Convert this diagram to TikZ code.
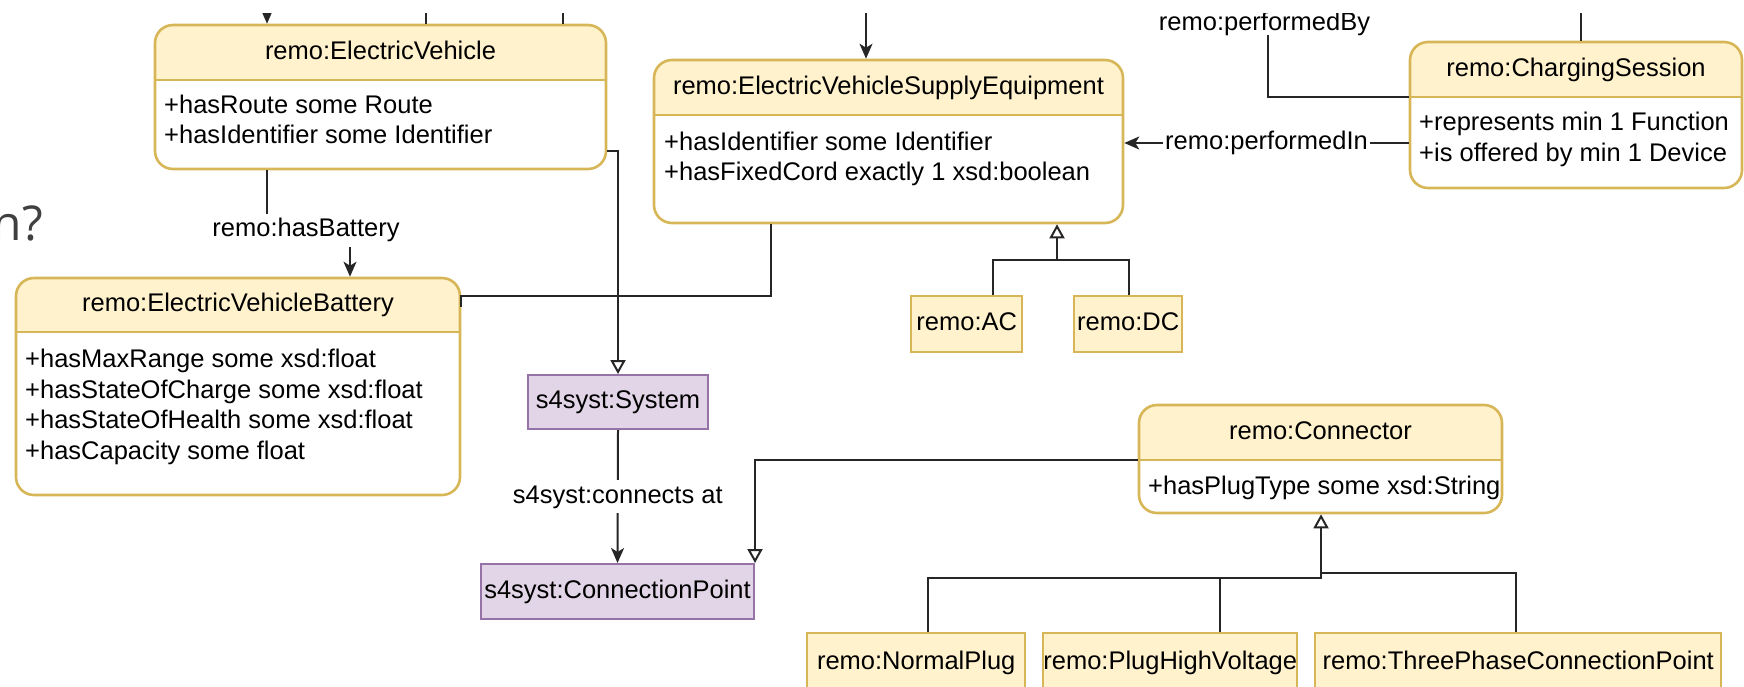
\documentclass[tikz,border=0pt]{standalone}
\usepackage{fontspec}
\setmainfont{Liberation Sans}
\newfontfamily\opensans{Open Sans}
\usetikzlibrary{fit,arrows.meta}
\definecolor{hdrfill}{HTML}{FFF2CC}
\definecolor{hdrdraw}{HTML}{D6B656}
\definecolor{sysfill}{HTML}{E1D5E7}
\definecolor{sysdraw}{HTML}{9673A6}
\definecolor{slidegray}{HTML}{404040}
\tikzset{
  txt/.style={font=\fontsize{25.5}{30.7}\selectfont, text height=18pt, text depth=5pt, inner sep=0pt},
  clsbox/.style={draw=hdrdraw, line width=2.6pt, rounded corners=18pt, inner sep=0pt},
  plainbox/.style={draw=hdrdraw, fill=hdrfill, line width=2.4pt, inner sep=0pt},
  sysbox/.style={draw=sysdraw, fill=sysfill, line width=2pt, inner sep=0pt},
  conn/.style={line width=2pt, draw=black!85},
  assoc/.style={conn, -{Stealth[length=15pt,width=13pt,inset=4pt]}},
  gen/.style={conn, -{Triangle[open,length=14pt,width=15pt]}},
  lbl/.style={txt, fill=white, inner xsep=2pt, inner ysep=5pt},
}
\newcommand{\umlclass}[7]{%
  \begin{scope}
    \clip (#2-3,#3-3) rectangle (#4+3,#6);
    \fill[hdrfill, rounded corners=18pt] (#2,#3) rectangle (#4,#5);
  \end{scope}
  \node[clsbox, fit={(#2,#3) (#4,#5)}] (#1) {};
  \draw[hdrdraw, line width=2.6pt] (#2,#6) -- (#4,#6);
  \node[txt] (#1-title) at ({(#2+#4)/2},{(#3+#6)/2}) {#7};
}
\begin{document}
\begin{tikzpicture}[x=1pt,y=-1pt]
\useasboundingbox (0,0) rectangle (1744,686);
\begin{scope}
\clip (0,13) rectangle (1744,686);

% slide fragment
\node[font=\opensans\fontsize{48}{52}\selectfont, text=slidegray, anchor=base east, inner sep=0pt] (frag) at (43,240) {n?};

% classes
\umlclass{ev}{155}{25}{606}{169}{80}{remo:ElectricVehicle}
\node[txt, anchor=west] (ev-a1) at (164,107) {+hasRoute some Route};
\node[txt, anchor=west] (ev-a2) at (164,137) {+hasIdentifier some Identifier};

\umlclass{ese}{654}{60}{1123}{223}{115}{remo:ElectricVehicleSupplyEquipment}
\node[txt, anchor=west] (ese-a1) at (664,144) {+hasIdentifier some Identifier};
\node[txt, anchor=west] (ese-a2) at (664,174) {+hasFixedCord exactly 1 xsd:boolean};

\umlclass{cs}{1410}{42}{1742}{188}{97}{remo:ChargingSession}
\node[txt, anchor=west] (cs-a1) at (1419,124) {+represents min 1 Function};
\node[txt, anchor=west] (cs-a2) at (1419,155) {+is offered by min 1 Device};

\umlclass{bat}{16}{278}{460}{495}{332}{remo:ElectricVehicleBattery}
\node[txt, anchor=west] (bat-a1) at (25,361) {+hasMaxRange some xsd:float};
\node[txt, anchor=west] (bat-a2) at (25,392) {+hasStateOfCharge some xsd:float};
\node[txt, anchor=west] (bat-a3) at (25,422) {+hasStateOfHealth some xsd:float};
\node[txt, anchor=west] (bat-a4) at (25,453) {+hasCapacity some float};

\umlclass{con}{1139}{405}{1502}{513}{460}{remo:Connector}
\node[txt, anchor=west] (con-a1) at (1148,488) {+hasPlugType some xsd:String};

% plain boxes
\node[sysbox, txt, minimum width=180pt, minimum height=54pt, anchor=north west] (sys) at (527,374) {s4syst:System};
\node[sysbox, txt, minimum width=273pt, minimum height=55pt, anchor=north west] (cp) at (480,563) {s4syst:ConnectionPoint};
\node[plainbox, txt, minimum width=111pt, minimum height=56pt, anchor=north west] (ac) at (910,295) {remo:AC};
\node[plainbox, txt, minimum width=108pt, minimum height=56pt, anchor=north west] (dc) at (1073,295) {remo:DC};
\node[plainbox, txt, minimum width=218pt, minimum height=60pt, anchor=north west] (np) at (806,632) {remo:NormalPlug};
\node[plainbox, txt, minimum width=254pt, minimum height=60pt, anchor=north west] (phv) at (1042,632) {remo:PlugHighVoltage};
\node[plainbox, txt, minimum width=406pt, minimum height=60pt, anchor=north west] (tp) at (1314,632) {remo:ThreePhaseConnectionPoint};

% free ends at the top
\coordinate (t1) at (267,0);
\coordinate (t2) at (426,0);
\coordinate (t3) at (563,0);
\coordinate (t4) at (866,0);
\coordinate (t5) at (1581,0);
\draw[assoc] (t1) -- (ev.north -| t1);
\draw[conn] (t2) -- (ev.north -| t2);
\draw[conn] (t3) -- (ev.north -| t3);
\draw[assoc] (t4) -- (ese.north -| t4);
\draw[conn] (t5) -- (cs.north -| t5);

% EV -> battery
\draw[assoc] (ev.south -| 267,0) |- (350,230) -- (bat.north -| 350,0);
\node[lbl] (hb) at (306,230) {remo:hasBattery};

% EV -> System
\draw[gen] (ev.east |- 0,151) -| (sys.north);

% ESE -> battery
\draw[conn] (ese.south -| 771,0) |- (bat.east |- 0,296) -- ++(0,11);

% System -> ConnectionPoint
\draw[assoc] (sys.south) -- (cp.north) node[midway, lbl] (ca) {s4syst:connects at};

% Connector -> ConnectionPoint
\draw[gen] (con.west |- 0,460) -| (cp.north east);

% ChargingSession -> ESE
\draw[assoc] (cs.west |- 0,143) -- (ese.east |- 0,143) node[midway, lbl] (pin) {remo:performedIn};

% performedBy
\node[txt, anchor=base, inner sep=0pt, text depth=0pt] (pby) at (1264.5,30) {remo:performedBy};
\draw[conn] (pby.south -| 1268,0) ++(0,5) |- (cs.west |- 0,97);

% ESE subclasses
\draw[gen] (ac.north -| 993,0) |- (1057,260) -- (ese.south -| 1057,0);
\draw[conn] (dc.north -| 1129,0) |- (1057,260);

% Connector subclasses
\draw[gen] (np.north -| 928,0) |- (1321,578) -- (con.south -| 1321,0);
\draw[conn] (phv.north -| 1220,0) |- (1321,578);
\draw[conn] (tp.north -| 1516,0) |- (1321,573);

\end{scope}
\end{tikzpicture}
\end{document}
